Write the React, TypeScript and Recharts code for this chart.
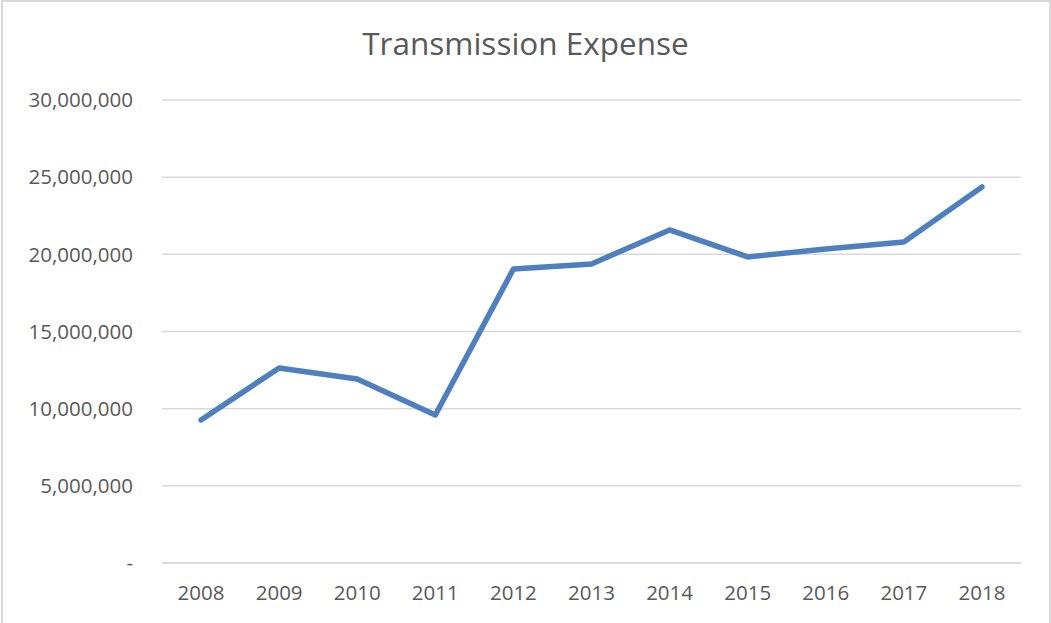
import React from "react";
import { CartesianGrid, Line, LineChart, XAxis, YAxis } from "recharts";

const years = ["2008", "2009", "2010", "2011", "2012", "2013", "2014", "2015", "2016", "2017", "2018"];
const expense = [9270000, 12640000, 11920000, 9590000, 19050000, 19380000, 21580000, 19830000, 20350000, 20800000, 24370000];
const yTicks = [0, 5000000, 10000000, 15000000, 20000000, 25000000, 30000000];

const data = years.map((year, i) => ({ year, expense: expense[i] }));

const FONT = "'Open Sans', 'Noto Sans', sans-serif";
const TEXT = "#595959";
const GRID = "#D9D9D9";

const formatTick = (v: number) => (v === 0 ? "-" : v.toLocaleString("en-US"));

const App: React.FC = () => {
  return (
    <div style={{ position: "absolute", left: 0, top: 0, width: 1051, height: 623, background: "#fff", overflow: "hidden" }}>
      <div
        style={{
          position: "absolute",
          left: 1,
          top: 0,
          width: 1046,
          height: 640,
          border: `2px solid ${GRID}`,
        }}
      />
      <div
        style={{
          position: "absolute",
          left: 0,
          top: 21,
          width: 1051,
          textAlign: "center",
          fontFamily: FONT,
          fontSize: 31.5,
          color: TEXT,
        }}
      >
        Transmission Expense
      </div>
      <LineChart
        width={1051}
        height={623}
        data={data}
        margin={{ top: 100, right: 30, left: 0, bottom: 0 }}
        style={{ position: "absolute", left: 0, top: 0 }}
      >
        <CartesianGrid vertical={false} stroke={GRID} strokeWidth={1.5} />
        <XAxis
          dataKey="year"
          scale="band"
          height={60}
          tickLine={false}
          tickSize={0}
          tickMargin={22}
          axisLine={{ stroke: GRID, strokeWidth: 1.5 }}
          tick={{ fill: TEXT, fontSize: 20.5, fontFamily: FONT }}
        />
        <YAxis
          width={162}
          domain={[0, 30000000]}
          ticks={yTicks}
          interval={0}
          tickLine={false}
          tickSize={0}
          tickMargin={29}
          axisLine={false}
          tickFormatter={formatTick}
          tick={{ fill: TEXT, fontSize: 20.5, fontFamily: FONT }}
        />
        <Line
          type="linear"
          dataKey="expense"
          stroke="#4E7FBF"
          strokeWidth={5.5}
          strokeLinecap="round"
          strokeLinejoin="round"
          dot={false}
          activeDot={false}
          isAnimationActive={false}
        />
      </LineChart>
    </div>
  );
};

export default App;
